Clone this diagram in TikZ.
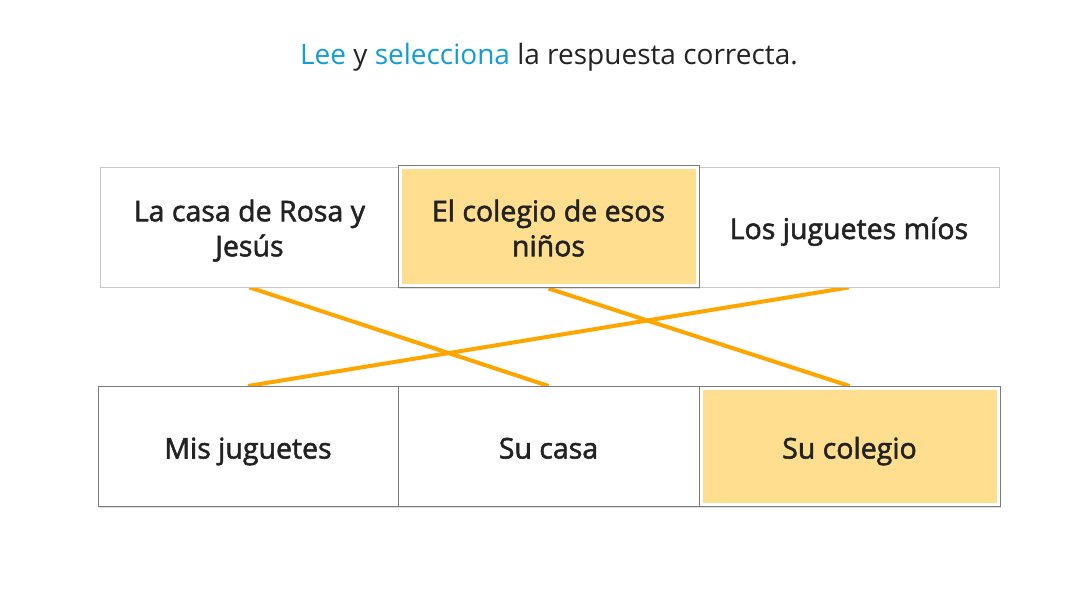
\documentclass[tikz,border=0pt]{standalone}
\usepackage{fontspec}
\setmainfont{Open Sans}
\newfontfamily\boxfont[FakeBold=1.8]{Open Sans}
\usetikzlibrary{shadows}
\pgfdeclarelayer{background}
\pgfsetlayers{background,main}
\definecolor{yel}{HTML}{FFDE8F}
\definecolor{conn}{HTML}{FFA500}
\definecolor{lightb}{HTML}{C8C8C8}
\definecolor{darkb}{HTML}{7A7A7A}
\definecolor{bluet}{HTML}{129DD9}
\definecolor{txt}{HTML}{222222}
\newcommand{\firststrut}{\rule{0pt}{34pt}}
\tikzset{
  cell/.style={rectangle, minimum width=300pt, minimum height=120pt, inner sep=0pt, align=center,
    text=txt, fill=white, font=\boxfont\fontsize{28.5}{35}\selectfont,
    execute at begin node={\rule{0pt}{34.5pt}}, execute at end node={\rule[-10.5pt]{0pt}{10.5pt}}},
  toplain/.style={cell, draw=lightb, line width=0.8pt},
  framed/.style={cell, draw=darkb, line width=1pt,
    drop shadow={opacity=0.25, shadow xshift=1pt, shadow yshift=-1.2pt}},
  chosen/.style={framed, path picture={\fill[yel] ([shift={(3.5,3.5)}]path picture bounding box.north west) rectangle ([shift={(-3.5,-3.5)}]path picture bounding box.south east);}},
  link/.style={draw=conn, line width=4pt},
}
\begin{document}
\begin{tikzpicture}[x=1pt,y=-1pt]
\useasboundingbox (0,0) rectangle (1077,596);
\begin{pgfonlayer}{background}
\fill[white] (0,0) rectangle (1077,596);
\end{pgfonlayer}
\node[font=\fontsize{28}{32}\selectfont, text=txt] (title) at (549,57)
  {\textcolor{bluet}{Lee} y \textcolor{bluet}{selecciona} la respuesta correcta.};
\node[toplain, minimum width=299pt] (t1) at (249.5,227) {\firststrut La casa de Rosa y\\Jesús};
\node[toplain, minimum width=300pt] (t3) at (849,227) {Los juguetes míos};
\node[chosen, minimum width=301pt, minimum height=122pt] (t2) at (548.5,227) {\firststrut El colegio de esos\\niños};
\node[framed] (b1) at (248,446.5) {Mis juguetes};
\node[framed, minimum width=301pt] (b2) at (548.5,446.5) {Su casa};
\node[chosen, minimum width=301pt] (b3) at (849.5,446.5) {Su colegio};
\begin{pgfonlayer}{background}
\draw[link] (t1.south) -- (b2.north);
\draw[link] (t2.south) -- (b3.north);
\draw[link] (t3.south) -- (b1.north);
\end{pgfonlayer}
\end{tikzpicture}
\end{document}
